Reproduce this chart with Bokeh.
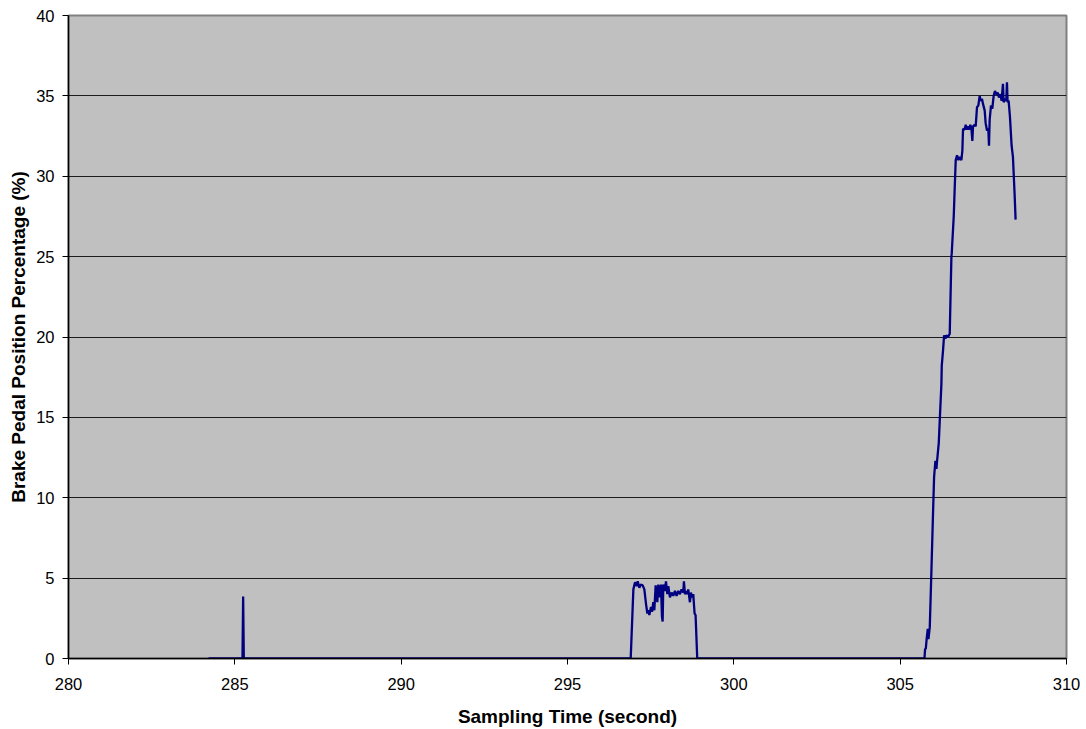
from bokeh.plotting import figure
from bokeh.models import Range1d, FixedTicker
from bokeh.embed import file_html
from bokeh.resources import INLINE

# Sampling time (s) and brake pedal position (%)
time_s = [
    284.21, 285.23, 285.25, 285.27,
    296.90, 296.98, 297.03, 297.08, 297.11, 297.16, 297.20, 297.26, 297.31, 297.36,
    297.40, 297.43, 297.46, 297.51, 297.54, 297.58, 297.61, 297.65, 297.70, 297.73,
    297.78, 297.81, 297.84, 297.86, 297.88, 297.93, 297.96, 298.00, 298.03, 298.08,
    298.13, 298.18, 298.23, 298.28, 298.33, 298.38, 298.43, 298.48, 298.50, 298.53,
    298.57, 298.60, 298.63, 298.68, 298.71, 298.74, 298.78, 298.82, 298.85, 298.90,
    305.73, 305.75, 305.77, 305.80, 305.83, 305.85, 305.89, 305.94, 305.99, 306.02,
    306.06, 306.09, 306.11, 306.16, 306.19, 306.24, 306.25, 306.29, 306.32, 306.36,
    306.39, 306.44, 306.49, 306.54, 306.55, 306.61, 306.64, 306.67, 306.71, 306.75,
    306.79, 306.84, 306.87, 306.89, 306.94, 306.97, 307.01, 307.04, 307.07, 307.11,
    307.14, 307.17, 307.19, 307.24, 307.27, 307.31, 307.35, 307.39, 307.42, 307.46,
    307.49, 307.54, 307.57, 307.61, 307.65, 307.67, 307.69, 307.73, 307.77, 307.81,
    307.85, 307.89, 307.93, 307.97, 308.01, 308.05, 308.09, 308.11, 308.15, 308.19,
    308.21, 308.23, 308.26, 308.30, 308.35, 308.39, 308.44, 308.47,
]
brake_pct = [
    0.0, 0.0, 3.86, 0.0,
    0.0, 4.3, 4.75, 4.5, 4.8, 4.4, 4.6, 4.55, 4.3, 3.4,
    2.8, 3.0, 2.7, 3.2, 2.9, 3.5, 3.0, 4.55, 3.5, 4.6,
    3.8, 4.6, 2.6, 2.3, 4.6, 4.2, 4.8, 4.0, 4.5, 3.8,
    4.1, 3.9, 4.2, 3.9, 4.2, 4.0, 4.3, 4.1, 4.8, 4.0,
    4.2, 4.0, 4.3, 3.5, 4.1, 3.8, 4.0, 2.8, 2.7, 0.0,
    0.0, 0.6, 0.6, 1.3, 1.85, 1.2, 1.95, 5.5, 9.2, 11.3,
    12.3, 11.8, 12.3, 13.4, 14.8, 17.1, 18.2, 19.2, 20.1, 19.9,
    20.1, 20.0, 20.2, 25.0, 25.2, 27.5, 29.3, 31.0, 31.3, 31.0,
    31.2, 31.0, 31.6, 32.95, 32.9, 33.2, 32.9, 33.1, 32.9, 33.2,
    33.0, 32.2, 33.1, 33.2, 33.1, 34.3, 34.4, 35.0, 34.7, 34.8,
    34.5, 34.1, 33.3, 32.85, 32.95, 31.9, 33.5, 34.4, 34.2, 35.0,
    35.3, 35.1, 35.2, 34.9, 35.1, 34.7, 35.75, 34.6, 34.8, 34.7,
    35.85, 34.6, 34.7, 33.7, 31.9, 31.2, 28.9, 27.3,
]
x_ticks = [280, 285, 290, 295, 300, 305, 310]
y_ticks = [0, 5, 10, 15, 20, 25, 30, 35, 40]

FONT = "Liberation Sans"

p = figure(width=1086, height=729, output_backend="svg", toolbar_location=None,
           x_range=Range1d(280, 310), y_range=Range1d(0, 40),
           min_border_left=68, min_border_right=20, min_border_top=15, min_border_bottom=71)

p.background_fill_color = "#C0C0C0"
p.border_fill_color = "white"
p.outline_line_color = "#808080"
p.outline_line_width = 2

p.line(time_s, brake_pct, line_color="#000080", line_width=2.3)

p.xgrid.grid_line_color = None
p.ygrid.grid_line_color = "black"
p.ygrid.grid_line_width = 1
p.ygrid.grid_line_alpha = 0.85

p.xaxis.ticker = FixedTicker(ticks=x_ticks)
p.yaxis.ticker = FixedTicker(ticks=y_ticks)

for ax in (p.xaxis[0], p.yaxis[0]):
    ax.axis_line_color = "black"
    ax.axis_line_width = 1.5
    ax.major_tick_line_color = "black"
    ax.major_tick_out = 6
    ax.major_tick_in = 0
    ax.minor_tick_line_color = None
    ax.major_label_text_font = FONT
    ax.major_label_text_font_size = "16.5px"
    ax.major_label_text_color = "black"
    ax.axis_label_text_font = FONT
    ax.axis_label_text_font_size = "19px"
    ax.axis_label_text_font_style = "bold"
    ax.axis_label_text_color = "black"

p.xaxis.axis_label = "Sampling Time (second)"
p.yaxis.axis_label = "Brake Pedal Position Percentage (%)"
p.xaxis.major_label_standoff = 13
p.xaxis.axis_label_standoff = 13
p.yaxis.major_label_standoff = 8
p.yaxis.axis_label_standoff = 4

open("out.html", "w").write(file_html(p, INLINE))
